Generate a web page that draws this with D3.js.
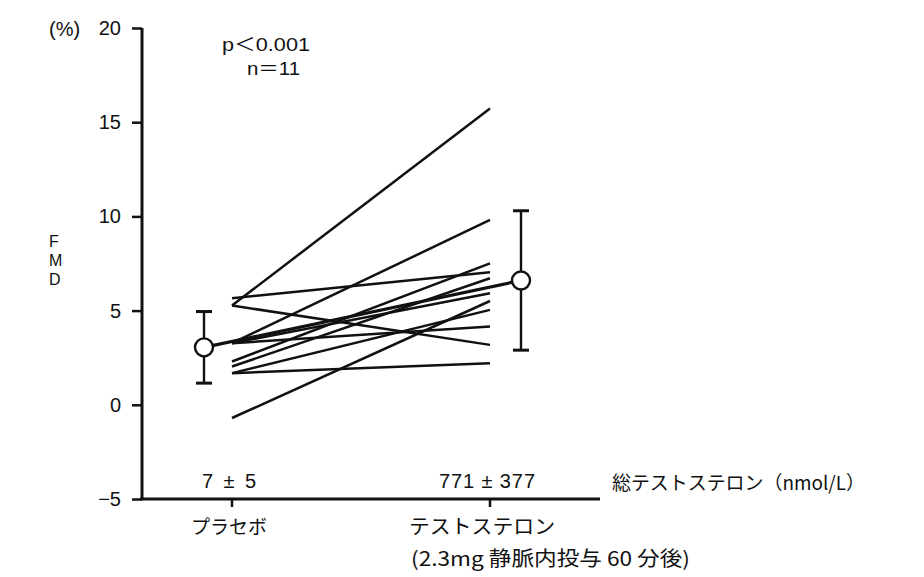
<!DOCTYPE html>
<html>
<head>
<meta charset="utf-8">
<script src="https://cdn.jsdelivr.net/npm/d3@7"></script>
<style>
  html, body { margin: 0; padding: 0; background: #fff; }
  svg { display: block; }
  text { font-family: "Liberation Sans", Arial, "Noto Sans CJK JP", sans-serif; fill: #111; }
  .jp { font-family: "Noto Sans CJK JP", sans-serif; }
</style>
</head>
<body>
<script>
// Groups on the x axis
const groups = ["プラセボ", "テストステロン"];

// FMD (%) for each of the 11 subjects: placebo, then testosterone
const fmdPlacebo      = [5.27, 5.27, 5.66, 3.27, -0.70, 1.68, 3.27, 3.27, 2.30, 2.03, 1.68];
const fmdTestosterone = [15.73, 3.18, 7.04, 9.81, 5.51, 2.21, 4.15, 5.92, 7.51, 6.72, 5.04];

// Group mean and SD
const groupMean = [3.05, 6.6];
const groupSD   = [1.9, 3.7];

// Total testosterone (nmol/L), shown above the x axis
const testosteroneLabels = ["7 ± 5", "771 ± 377"];

const yTicks = [-5, 0, 5, 10, 15, 20];
const yTickLabels = ["−5", "0", "5", "10", "15", "20"];

const W = 924, H = 577;
const svg = d3.select("body").append("svg").attr("width", W).attr("height", H);

const y = d3.scaleLinear().domain([-5, 20]).range([499, 28]);
const x = d3.scalePoint().domain(groups).range([232, 490]);
const meanOffset = [-28, 31];

// y axis
const yAxis = d3.axisLeft(y).tickValues(yTicks).tickSize(10).tickPadding(11)
  .tickFormat((d, i) => yTickLabels[i]);
const gy = svg.append("g").attr("transform", "translate(142,0)").call(yAxis);
gy.select(".domain").attr("stroke", "#111").attr("stroke-width", 3).attr("d", `M0,${y(-5)}V${y(20)}`);
gy.selectAll(".tick line").attr("stroke", "#111").attr("stroke-width", 2.5);
gy.selectAll(".tick text").attr("font-size", 20).attr("fill", "#111")
  .style("font-family", '"Liberation Sans", Arial, sans-serif');

// x axis
const gx = svg.append("g").attr("transform", `translate(0,${y(-5)})`);
gx.append("line").attr("x1", 140).attr("x2", 600).attr("y1", 0).attr("y2", 0)
  .attr("stroke", "#111").attr("stroke-width", 3);
gx.selectAll("line.tk").data(groups).join("line").attr("class", "tk")
  .attr("x1", d => x(d)).attr("x2", d => x(d)).attr("y1", 0).attr("y2", 8)
  .attr("stroke", "#111").attr("stroke-width", 2.5);

// individual subject lines
const lines = svg.append("g");
fmdPlacebo.forEach((v, i) => {
  lines.append("line")
    .attr("x1", x(groups[0])).attr("y1", y(v))
    .attr("x2", x(groups[1])).attr("y2", y(fmdTestosterone[i]))
    .attr("stroke", "#111").attr("stroke-width", 2.5);
});

// mean line between groups
const mx = groups.map((g, i) => x(g) + meanOffset[i]);
svg.append("line")
  .attr("x1", mx[0]).attr("y1", y(groupMean[0]))
  .attr("x2", mx[1]).attr("y2", y(groupMean[1]))
  .attr("stroke", "#111").attr("stroke-width", 3.2);

// error bars and mean markers
groups.forEach((g, i) => {
  const cx = mx[i];
  const top = y(groupMean[i] + groupSD[i]), bot = y(groupMean[i] - groupSD[i]);
  const eb = svg.append("g");
  eb.append("line").attr("x1", cx).attr("x2", cx).attr("y1", top).attr("y2", bot)
    .attr("stroke", "#111").attr("stroke-width", 2.4);
  [top, bot].forEach(v => eb.append("line").attr("x1", cx - 8).attr("x2", cx + 8)
    .attr("y1", v).attr("y2", v).attr("stroke", "#111").attr("stroke-width", 3));
  eb.append("circle").attr("cx", cx).attr("cy", y(groupMean[i])).attr("r", 9)
    .attr("fill", "#fff").attr("stroke", "#111").attr("stroke-width", 2.4);
});

// axis unit and title
svg.append("text").attr("x", 49).attr("y", 36).attr("font-size", 20).text("(%)");
["F", "M", "D"].forEach((c, i) =>
  svg.append("text").attr("x", 49).attr("y", 247 + i * 19).attr("font-size", 16).text(c));

// statistics
svg.append("text").attr("x", 222).attr("y", 51)
  .attr("font-size", 18).attr("textLength", 88).attr("lengthAdjust", "spacingAndGlyphs")
  .text("p＜0.001");
svg.append("text").attr("x", 247).attr("y", 75)
  .attr("font-size", 18).attr("textLength", 53).attr("lengthAdjust", "spacingAndGlyphs")
  .text("n＝11");

// testosterone concentrations
const concWidth = [54, 96];
groups.forEach((g, i) =>
  svg.append("text").attr("x", x(g) - 3 - concWidth[i] / 2).attr("y", 488)
    .attr("font-size", 20).attr("textLength", concWidth[i]).attr("lengthAdjust", "spacing")
    .text(testosteroneLabels[i]));
svg.append("text").attr("class", "jp").attr("x", 612).attr("y", 490)
  .attr("font-size", 19).attr("textLength", 253).attr("lengthAdjust", "spacingAndGlyphs")
  .text("総テストステロン（nmol/L）");

// category labels
svg.append("text").attr("class", "jp").attr("x", x(groups[0]) - 3).attr("y", 534)
  .attr("text-anchor", "middle").attr("font-size", 19).text(groups[0]);
svg.append("text").attr("class", "jp").attr("x", 409).attr("y", 534)
  .attr("font-size", 20).attr("textLength", 146).attr("lengthAdjust", "spacingAndGlyphs")
  .text(groups[1]);
svg.append("text").attr("class", "jp").attr("x", 411).attr("y", 566)
  .attr("font-size", 20).attr("textLength", 279).attr("lengthAdjust", "spacingAndGlyphs")
  .text("(2.3mg 静脈内投与 60 分後)");
</script>
</body>
</html>
